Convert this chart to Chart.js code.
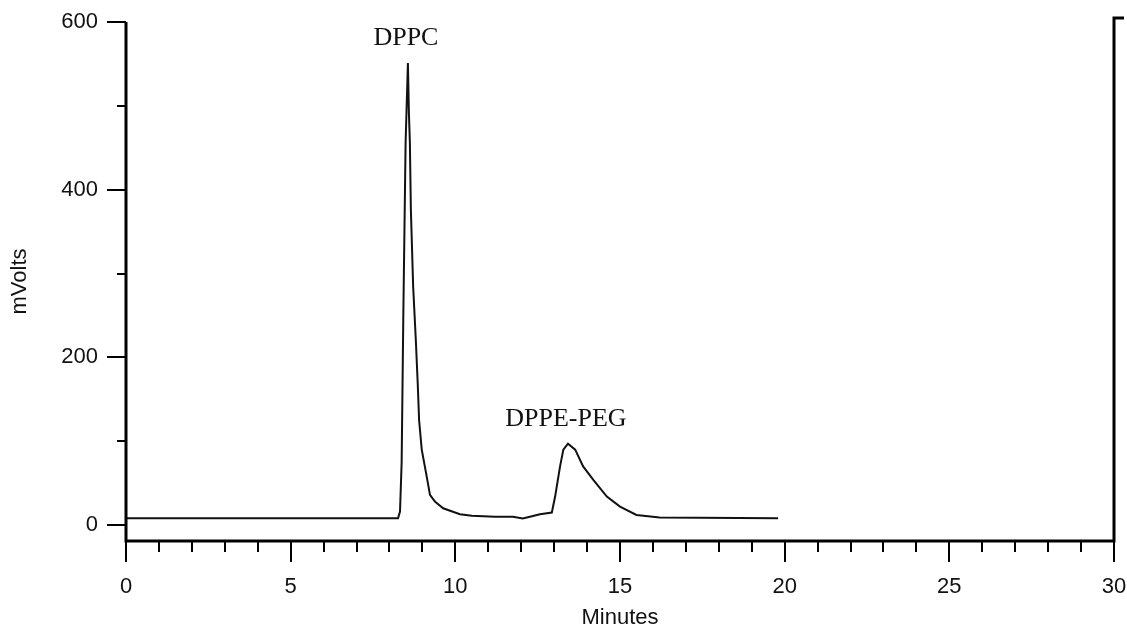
<!DOCTYPE html>
<html>
<head>
<meta charset="utf-8">
<script src="https://cdn.jsdelivr.net/npm/chart.js@4"></script>
<style>
  body { margin: 0; background: #fff; }
  #wrap { width: 1127px; height: 627px; position: relative; }
</style>
</head>
<body>
<div id="wrap"><canvas id="chrom"></canvas></div>
<script>
// retention time (min) and detector signal (mV)
const minutes = [0, 8.26, 8.32, 8.37, 8.42, 8.49, 8.56, 8.59, 8.62, 8.65, 8.72, 8.80, 8.86, 8.90,
  8.98, 9.13, 9.23, 9.38, 9.63, 10.14, 10.5, 11.2, 11.75, 12.05, 12.57, 12.93, 13.03, 13.18,
  13.28, 13.42, 13.64, 13.88, 14.19, 14.6, 15.0, 15.5, 16.2, 19.8];
const mVolts = [8, 8, 16, 75, 248, 456, 551, 492, 456, 376, 284, 221, 167, 125,
  90, 58, 36, 28, 20, 13, 11, 10, 10, 8, 13, 15, 34, 70,
  90, 97, 90, 70, 54, 34, 22, 12, 9, 8];

// peak names and their retention times
const peakNames = ['DPPC', 'DPPE-PEG'];
const peakTimes = [8.56, 13.42];

// tick values
const xMajor = [0, 5, 10, 15, 20, 25, 30];
const yMajor = [0, 200, 400, 600];
const yMinor = [100, 300, 500];

const sans = '"Liberation Sans", Arial, sans-serif';

// keep the plot box where the layout padding puts it
const noPad = s => {
  s.paddingTop = 0; s.paddingBottom = 0;
  s.paddingLeft = 0; s.paddingRight = 0;
};

// axes frame, tick marks and peak labels
const framePlugin = {
  id: 'frame',
  afterDraw(chart) {
    const { ctx, chartArea: a, scales: { x, y } } = chart;
    ctx.save();
    ctx.strokeStyle = '#000';
    ctx.lineCap = 'butt';

    // minor / major ticks on x
    ctx.lineWidth = 2;
    for (let m = 0; m <= 30; m++) {
      const px = Math.round(x.getPixelForValue(m));
      const len = xMajor.includes(m) ? 21 : 11;
      ctx.beginPath();
      ctx.moveTo(px, a.bottom);
      ctx.lineTo(px, a.bottom + len);
      ctx.stroke();
    }
    // ticks on y
    yMajor.concat(yMinor).forEach(v => {
      const py = Math.round(y.getPixelForValue(v));
      const len = yMajor.includes(v) ? 19 : 9;
      ctx.beginPath();
      ctx.moveTo(a.left - len, py);
      ctx.lineTo(a.left, py);
      ctx.stroke();
    });

    // axis lines
    ctx.lineWidth = 3;
    const top600 = Math.round(y.getPixelForValue(600));
    ctx.beginPath();
    ctx.moveTo(a.left, top600);
    ctx.lineTo(a.left, a.bottom);
    ctx.lineTo(a.right, a.bottom);
    ctx.lineTo(a.right, top600 - 4);
    ctx.lineTo(a.right + 10, top600 - 4);
    ctx.stroke();

    // peak labels above each apex
    ctx.fillStyle = '#111';
    ctx.font = '26px "Liberation Serif", "Times New Roman", serif';
    ctx.textAlign = 'center';
    ctx.textBaseline = 'middle';
    peakNames.forEach((name, i) => {
      const idx = minutes.indexOf(peakTimes[i]);
      const px = x.getPixelForValue(minutes[idx]);
      const py = y.getPixelForValue(mVolts[idx]);
      ctx.fillText(name, px - 2, py - 25);
    });
    ctx.restore();
  }
};

new Chart(document.getElementById('chrom'), {
  type: 'line',
  data: {
    datasets: [{
      data: minutes.map((t, i) => ({ x: t, y: mVolts[i] })),
      borderColor: '#111',
      borderWidth: 2,
      pointRadius: 0,
      tension: 0,
      fill: false
    }]
  },
  options: {
    responsive: true,
    maintainAspectRatio: false,
    animation: false,
    layout: { padding: { top: 22, right: 13, left: 0, bottom: 0 } },
    plugins: { legend: { display: false }, tooltip: { enabled: false } },
    scales: {
      x: {
        type: 'linear',
        min: 0,
        max: 30,
        grid: { display: false, drawTicks: false },
        border: { display: false },
        afterBuildTicks: s => { s.ticks = xMajor.map(v => ({ value: v })); },
        afterFit: s => { s.height = 86; noPad(s); },
        ticks: {
          color: '#111',
          padding: 33,
          maxRotation: 0,
          autoSkip: false,
          font: { family: sans, size: 22 }
        },
        title: {
          display: true,
          text: 'Minutes',
          color: '#111',
          padding: 0,
          font: { family: sans, size: 22, lineHeight: 0.8 }
        }
      },
      y: {
        min: -19,
        max: 600,
        grid: { display: false, drawTicks: false },
        border: { display: false },
        afterBuildTicks: s => { s.ticks = yMajor.map(v => ({ value: v })); },
        afterFit: s => { s.width = 126; noPad(s); },
        ticks: {
          color: '#111',
          padding: 28,
          font: { family: sans, size: 22 }
        },
        title: {
          display: true,
          text: 'mVolts',
          color: '#111',
          padding: { top: 11, bottom: 0 },
          font: { family: sans, size: 22, lineHeight: 0.8 }
        }
      }
    }
  },
  plugins: [framePlugin]
});
</script>
</body>
</html>
